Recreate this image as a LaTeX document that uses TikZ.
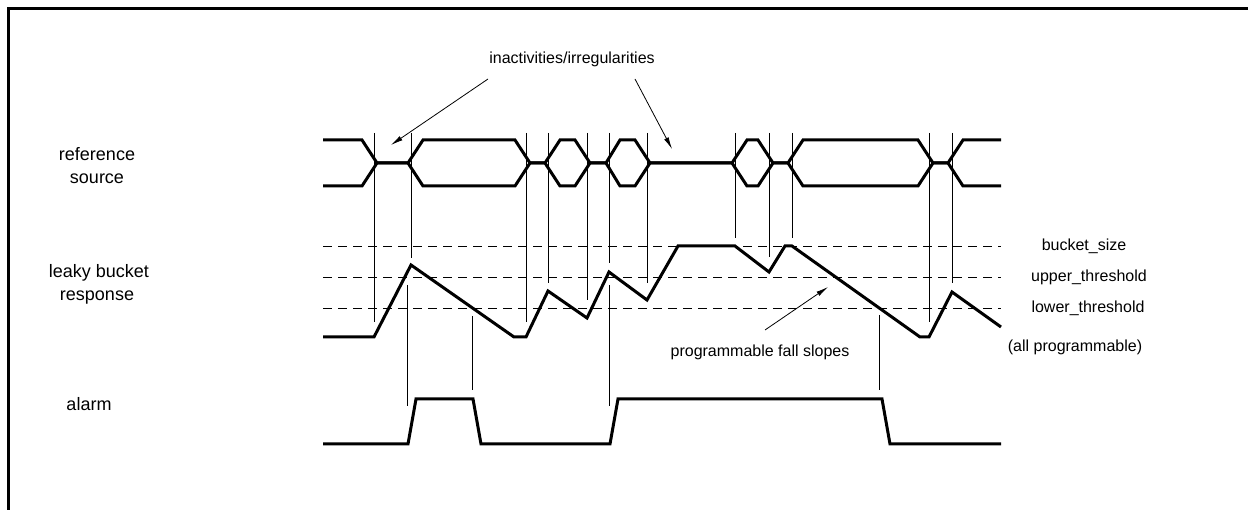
\documentclass[tikz,border=0pt]{standalone}
\usepackage{fontspec}
\setmainfont{Liberation Sans}
\usetikzlibrary{arrows.meta}
\begin{document}
\begin{tikzpicture}[x=1pt,y=-1pt,
  sig/.style={line width=3pt},
  guide/.style={line width=0.8pt},
  thr/.style={line width=0.8pt, dash pattern=on 9pt off 6pt},
  ptr/.style={line width=0.8pt, -{Latex[length=12pt,width=5pt]}},
  small/.style={font=\fontsize{16}{19}\selectfont, inner sep=0pt},
  big/.style={font=\fontsize{18}{23}\selectfont, inner sep=0pt, align=center}]
\useasboundingbox (0,0) rectangle (1248,510);
% frame
\draw[line width=3pt] (8.5,530) -- (8.5,8.5) -- (1270,8.5);
% thresholds
\draw[thr] (323,246) -- (1001,246);
\draw[thr] (323,277) -- (1001,277);
\draw[thr] (323,308) -- (1001,308);
% guide lines source -> bucket
\foreach \x/\y in {374/322, 411/258, 526/322, 548/283, 587/300, 609/263, 647/283, 735/238, 769/257, 792/238, 929/322, 952/283}
  \draw[guide] (\x,133) -- (\x,\y);
% guide lines bucket -> alarm
\draw[guide] (407,285) -- (407,406);
\draw[guide] (472,316) -- (472,390);
\draw[guide] (609,285) -- (609,406);
\draw[guide] (879,315) -- (879,390);
% reference source
\draw[sig] (323,140) -- (362,140) -- (377,163) -- (408,163) -- (423,140) -- (515,140) -- (530,163) -- (545,163) -- (560,140) -- (575,140) -- (590,163) -- (606,163) -- (620,140) -- (635,140) -- (650,163) -- (732,163) -- (747,140) -- (758,140) -- (773,163) -- (788,163) -- (803,140) -- (918,140) -- (933,163) -- (948,163) -- (963,140) -- (1001,140);
\draw[sig] (323,186) -- (362,186) -- (377,163) -- (408,163) -- (423,186) -- (515,186) -- (530,163) -- (545,163) -- (560,186) -- (575,186) -- (590,163) -- (606,163) -- (620,186) -- (635,186) -- (650,163) -- (732,163) -- (747,186) -- (758,186) -- (773,163) -- (788,163) -- (803,186) -- (918,186) -- (933,163) -- (948,163) -- (963,186) -- (1001,186);
% leaky bucket
\draw[sig] (323,337) -- (374,337) -- (411,265) -- (514,337) -- (526,337) -- (548,291) -- (587,318) -- (609,272) -- (647,300) -- (678,246) -- (735,246) -- (769,272) -- (785,246) -- (792,246) -- (920,337) -- (929,337) -- (952,292) -- (1001,327);
% alarm
\draw[sig] (323,444) -- (408,444) -- (416,399) -- (473,399) -- (481,444) -- (610,444) -- (618,399) -- (882,399) -- (890,444) -- (1001,444);
% labels
\node[big, anchor=base] (lref) at (97,161) {reference};
\node[big, anchor=base] (lsrc) at (97,184) {source};
\node[big, anchor=base] (lleaky) at (99,278) {leaky bucket};
\node[big, anchor=base] (lresp) at (97,301) {response};
\node[big, anchor=base] (lalarm) at (89,411) {alarm};
\node[small, anchor=base] (inact) at (572,64) {inactivities/irregularities};
\node[small, anchor=base] (bsize) at (1084,251) {bucket\_size};
\node[small, anchor=base] (uthr) at (1089,282) {upper\_threshold};
\node[small, anchor=base] (lthr) at (1088,313) {lower\_threshold};
\node[small, anchor=base] (allp) at (1075,352) {(all programmable)};
\node[small, anchor=base] (slopes) at (760,357) {programmable fall slopes};
% pointers
\coordinate (a1s) at (488,79);
\coordinate (a1e) at (391,145);
\coordinate (a2s) at (635,79);
\coordinate (a2e) at (672,149);
\coordinate (a3s) at (765,330);
\coordinate (a3e) at (828,287);
\draw[ptr] (a1s) -- (a1e);
\draw[ptr] (a2s) -- (a2e);
\draw[ptr] (a3s) -- (a3e);
\end{tikzpicture}
\end{document}
